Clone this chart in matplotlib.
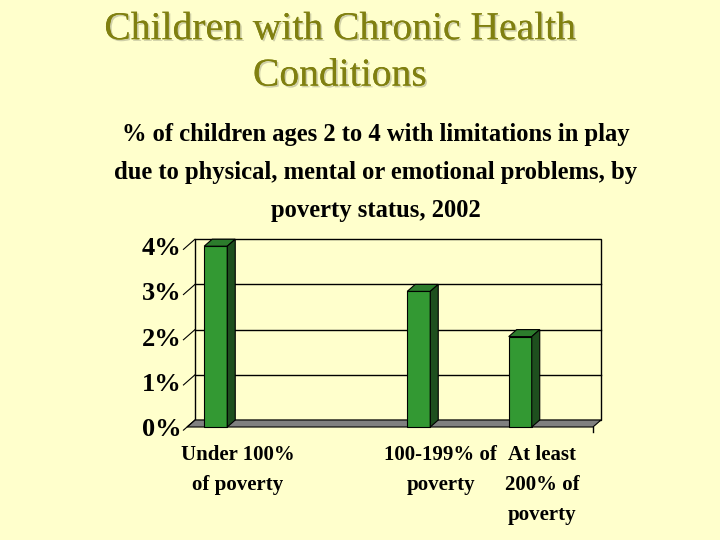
import matplotlib
matplotlib.use("Agg")
import matplotlib.pyplot as plt
from matplotlib.patches import Polygon
import matplotlib.patheffects as pe

categories = ["Under 100%\nof poverty", "", "100-199% of\npoverty", "At least\n200% of\npoverty"]
values = [4.0, None, 3.0, 2.0]
yticks = [0, 1, 2, 3, 4]
ytick_labels = ["0%", "1%", "2%", "3%", "4%"]

BG = "#FFFFCC"
FRONT = "#339933"
TOP = "#2C7C2C"
SIDE = "#1E4F1E"
FLOOR = "#808080"
TITLE = "#808010"

fig = plt.figure(figsize=(7.2, 5.4), dpi=100, facecolor=BG)

shadow = [pe.withSimplePatchShadow(offset=(1.2, -1.2), shadow_rgbFace="#B0B090", alpha=0.6), pe.Normal()]
fig.text(0.472, 0.945, "Children with Chronic Health", ha="center", va="center",
         family="Liberation Serif", fontsize=28.5, color=TITLE, path_effects=shadow)
fig.text(0.472, 0.859, "Conditions", ha="center", va="center",
         family="Liberation Serif", fontsize=28.5, color=TITLE, path_effects=shadow)

sub = ["% of children ages 2 to 4 with limitations in play",
       "due to physical, mental or emotional problems, by",
       "poverty status, 2002"]
for i, line in enumerate(sub):
    fig.text(0.5215, 0.751 - i * 0.0705, line, ha="center", va="center",
             family="Liberation Serif", fontweight="bold", fontsize=17.7, color="black")

# Axes: front plane, x in category slots, y in percent
ax = fig.add_axes([187 / 720, (540 - 427) / 540, 406 / 720, 4.2 * 45.2 / 540])
ax.set_facecolor("none")
ax.set_xlim(-0.5, 3.5)
ax.set_ylim(0, 4.2)
for s in ax.spines.values():
    s.set_visible(False)

dx = 8 / 101.5   # depth offset in slot units
dy = 7 / 45.2    # depth offset in percent units
x0, x1 = -0.5, 3.5
ymax = 4

# back wall
wall = Polygon([(x0 + dx, dy), (x1 + dx, dy), (x1 + dx, ymax + dy), (x0 + dx, ymax + dy)],
               closed=True, facecolor=BG, edgecolor="black", lw=1.0, clip_on=False, zorder=1)
ax.add_patch(wall)
for t in yticks[1:-1]:
    ax.plot([x0 + dx, x1 + dx], [t + dy, t + dy], color="black", lw=1.0, clip_on=False, zorder=1.5)

# floor
floor = Polygon([(x0, 0), (x1, 0), (x1 + dx, dy), (x0 + dx, dy)], closed=True,
                facecolor=FLOOR, edgecolor="black", lw=0.8, clip_on=False, zorder=2)
ax.add_patch(floor)
ax.plot([x1, x1], [0, -0.12], color="black", lw=1.0, clip_on=False)

# y tick marks (diagonal)
for t in yticks:
    ax.plot([x0 - 0.035, x0 + dx], [t - 0.07, t + dy], color="black", lw=0.8, clip_on=False, zorder=2)

ax.set_yticks(yticks)
ax.set_yticklabels(ytick_labels, family="Liberation Serif", fontweight="bold", fontsize=19)
ax.tick_params(axis="y", length=0, pad=4)

ax.set_xticks(range(len(categories)))
ax.set_xticklabels(categories, family="Liberation Serif", fontweight="bold", fontsize=15,
                   linespacing=1.68, va="top")
ax.tick_params(axis="x", length=0, pad=13)

# bars with 3D faces
shift = -0.217
w = 0.227
for i, v in enumerate(values):
    if v is None:
        continue
    xl = i + shift - w / 2
    xr = xl + w
    ax.bar(i + shift, v, width=w, color=FRONT, edgecolor="black", lw=0.8, zorder=3, clip_on=False)
    top = Polygon([(xl, v), (xr, v), (xr + dx, v + dy), (xl + dx, v + dy)], closed=True,
                  facecolor=TOP, edgecolor="black", lw=0.8, zorder=3, clip_on=False)
    side = Polygon([(xr, 0), (xr + dx, dy), (xr + dx, v + dy), (xr, v)], closed=True,
                   facecolor=SIDE, edgecolor="black", lw=0.8, zorder=3, clip_on=False)
    ax.add_patch(top)
    ax.add_patch(side)

fig.savefig("out.png", dpi=100, facecolor=BG)
